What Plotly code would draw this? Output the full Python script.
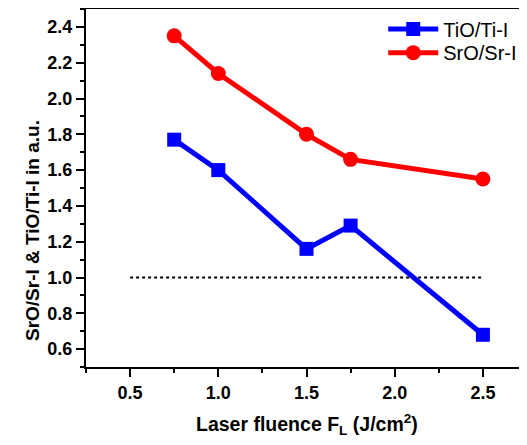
import plotly.graph_objects as go

fluence = [0.75, 1.0, 1.5, 1.75, 2.5]
tio_ti = [1.77, 1.60, 1.16, 1.29, 0.68]
sro_sr = [2.35, 2.14, 1.80, 1.66, 1.55]
ref_x = [0.5, 2.5]
ref_y = [1.0, 1.0]

x_ticks = [0.5, 1.0, 1.5, 2.0, 2.5]
y_ticks = [0.6, 0.8, 1.0, 1.2, 1.4, 1.6, 1.8, 2.0, 2.2, 2.4]

FONT = "Liberation Sans, Arial"

fig = go.Figure()
fig.add_trace(go.Scatter(x=ref_x, y=ref_y, mode="lines",
                         line=dict(color="black", width=2, dash="dot"),
                         showlegend=False, hoverinfo="skip"))
fig.add_trace(go.Scatter(x=fluence, y=tio_ti, mode="lines+markers", name="TiO/Ti-I",
                         line=dict(color="#0000ff", width=5),
                         marker=dict(symbol="square", size=14, color="#0000ff"),
                         legend="legend"))
fig.add_trace(go.Scatter(x=fluence, y=sro_sr, mode="lines+markers", name="SrO/Sr-I",
                         line=dict(color="#ff0000", width=5),
                         marker=dict(symbol="circle", size=15, color="#ff0000"),
                         legend="legend2"))

axis_font = dict(family=FONT, size=18, color="black")
leg_common = dict(xanchor="left", yanchor="middle", bgcolor="rgba(0,0,0,0)", borderwidth=0,
                  font=dict(family=FONT, size=20, color="black"), itemwidth=50)

fig.update_layout(
    width=519, height=437,
    margin=dict(l=78, r=0, t=1, b=78),
    paper_bgcolor="white", plot_bgcolor="white",
    font=dict(family=FONT, color="black"),
    showlegend=True,
    legend=dict(x=0.674, y=0.944, **leg_common),
    legend2=dict(x=0.674, y=0.878, **leg_common),
    xaxis=dict(range=[0.25, 2.75], tickvals=x_ticks,
               ticktext=[f"<b>{v:.1f}</b>" for v in x_ticks],
               showgrid=False, zeroline=False,
               showline=True, linecolor="black", linewidth=2, mirror=True,
               ticks="outside", ticklen=8, tickwidth=2, tickcolor="black",
               minor=dict(dtick=0.25, tick0=0.25, ticks="outside", ticklen=4, tickwidth=2, tickcolor="black"),
               tickfont=axis_font),
    yaxis=dict(range=[0.5, 2.5], tickvals=y_ticks,
               ticktext=[f"<b>{v:.1f}</b>" for v in y_ticks],
               showgrid=False, zeroline=False,
               showline=True, linecolor="black", linewidth=2, mirror=False,
               ticks="outside", ticklen=8, tickwidth=2, tickcolor="black",
               minor=dict(dtick=0.1, tick0=0.5, ticks="outside", ticklen=4, tickwidth=2, tickcolor="black"),
               tickfont=axis_font),
    annotations=[
        dict(text="<b>SrO/Sr-I &amp; TiO/Ti-I in a.u.</b>", xref="paper", yref="paper",
             x=-0.12, y=0.38, xanchor="center", yanchor="middle", textangle=-90,
             showarrow=False, font=dict(family=FONT, size=19, color="black")),
        dict(text="<b>Laser fluence F<sub>L</sub> (J/cm<sup>2</sup>)</b>", xref="paper", yref="paper",
             x=0.5, y=-0.162, xanchor="center", yanchor="middle",
             showarrow=False, font=dict(family=FONT, size=19.5, color="black")),
    ],
)

fig.write_html("out.html")
